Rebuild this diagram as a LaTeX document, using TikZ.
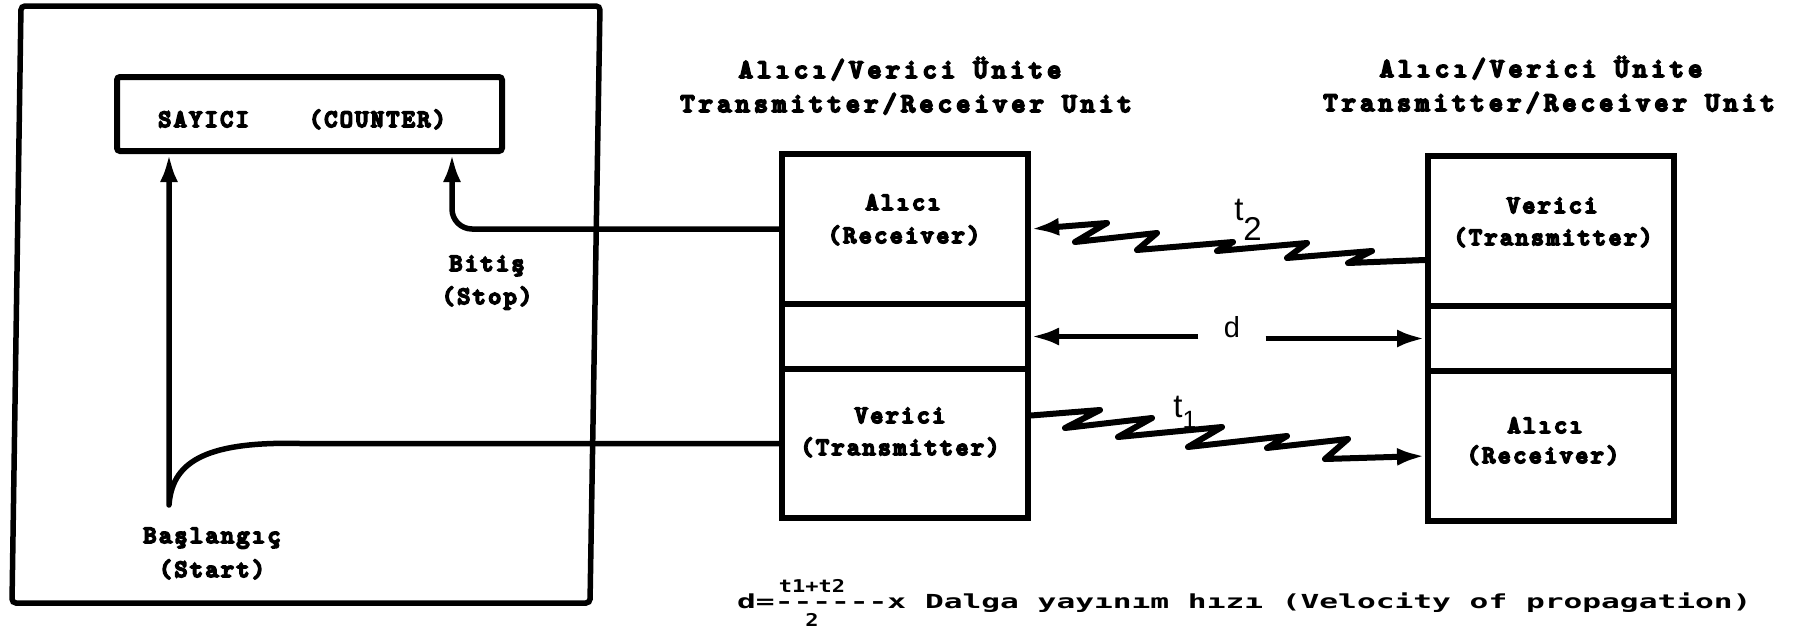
\documentclass[tikz,border=0pt]{standalone}
\usepackage{fontspec}
\usepackage{graphicx}
\usetikzlibrary{arrows.meta}
\newfontfamily\twfont[LetterSpace=9.5,FakeBold=7]{lmmonolt10-bold.otf}
\newfontfamily\ttlfont[LetterSpace=15.6,FakeBold=7]{lmmonolt10-bold.otf}
\newfontfamily\dmfont[Ligatures=TeXOff]{DejaVu Sans Mono}
\newfontfamily\hvfont{Liberation Sans}
\begin{document}
\begin{tikzpicture}[x=1pt,y=-1pt,
  box/.style={draw, line width=6pt, rounded corners=3pt, inner sep=0pt},
  sec/.style={draw, line width=6pt, minimum width=246pt, inner sep=0pt, anchor=north west},
  lbl/.style={font=\twfont\fontsize{25}{31}\selectfont, inner sep=0pt, anchor=base},
  ttl/.style={font=\ttlfont\fontsize{27}{36}\selectfont, inner sep=0pt, anchor=base},
  fml/.style={font=\dmfont\bfseries\fontsize{31.2}{34}\selectfont, inner sep=0pt, anchor=base},
  fmlsmall/.style={font=\dmfont\bfseries\fontsize{22}{24}\selectfont, inner sep=0pt, anchor=base},
  sym/.style={font=\hvfont\fontsize{33}{33}\selectfont, inner sep=0pt},
  conn/.style={line width=5.5pt, line join=round},
  arr/.style={-{Latex[length=28pt,width=18pt]}},
  zig/.style={line width=6pt, line join=round},
]
\useasboundingbox (0,0) rectangle (1806,629);

% outer frame
\draw[line width=5.5pt, rounded corners=4pt] (21,6) -- (600,6) -- (590,603) -- (12,603) -- cycle;

% counter
\node[box, minimum width=385pt, minimum height=74pt] (counter) at (309.5,114) {};
\node[lbl, anchor=base west] (countertxt) at (158,127) {SAYICI\hspace{60pt}(COUNTER)};

% left unit
\node[sec, minimum height=150pt] (lrx) at (779,151) {};
\node[sec, minimum height=65pt] (lmid) at (779,301) {};
\node[sec, minimum height=149pt] (ltx) at (779,366) {};
\node[lbl] (lrxa) at (903,210) {Alıcı};
\node[lbl] (lrxb) at (904,243) {(Receiver)};
\node[lbl] (ltxa) at (900,423) {Verici};
\node[lbl] (ltxb) at (900,455) {(Transmitter)};

% right unit
\node[sec, minimum height=150pt] (rtx) at (1425,153) {};
\node[sec, minimum height=65pt] (rmid) at (1425,303) {};
\node[sec, minimum height=150pt] (rrx) at (1425,368) {};
\node[lbl] (rtxa) at (1552,213) {Verici};
\node[lbl] (rtxb) at (1553,245) {(Transmitter)};
\node[lbl] (rrxa) at (1545,433) {Alıcı};
\node[lbl] (rrxb) at (1543,463) {(Receiver)};

% titles
\node[ttl] (tla) at (900,78) {Alıcı/Verici Ünite};
\node[ttl] (tlb) at (906,112) {Transmitter/Receiver Unit};
\node[ttl] (tra) at (1541,77) {Alıcı/Verici Ünite};
\node[ttl] (trb) at (1549,111) {Transmitter/Receiver Unit};

% start / stop labels
\node[lbl] (bitis) at (487,271) {Bitiş};
\node[lbl] (stoplbl) at (487,304) {(Stop)};
\node[lbl] (basl) at (212,543) {Başlangıç};
\node[lbl] (startlbl) at (212,577) {(Start)};

% stop connector
\coordinate (stopx) at (452,0);
\draw[conn, arr, rounded corners=20pt] (lrx.west) -| (stopx |- counter.south);

% start connector
\coordinate (sbend) at (300,0);
\coordinate (cusp) at (169,505);
\draw[conn, arr] (ltx.west) -- (sbend |- ltx.west)
  .. controls (200,441) and (172,465) .. (cusp) -- (cusp |- counter.south);

% d
\node[sym, font=\hvfont\fontsize{29}{29}\selectfont, minimum width=67pt] (dlab) at (1232,327) {d};
\draw[conn, arr] (dlab.west |- lmid.east) -- (lmid.east);
\draw[conn, arr] (dlab.east |- rmid.west) -- (rmid.west);

% t2 wave
\node[sym, anchor=base] (t2lab) at (1248,220) {t\raisebox{-20pt}{2}};
\draw[zig, arr] ([yshift=-29pt]rtx.west) -- (1348,263) -- (1372,251) -- (1287,258) -- (1307,243)
  -- (1217,251) -- (1233,242) -- (1137,250) -- (1157,233) -- (1075,242) -- (1107,223) -- (lrx.east);

% t1 wave
\node[sym, anchor=base] (t1lab) at (1185,417) {t\raisebox{-11pt}{\fontsize{25}{25}\selectfont 1}};
\draw[zig, arr] ([yshift=28pt]ltx.east) -- (1100,410) -- (1065,428) -- (1152,418) -- (1118,437)
  -- (1222,427) -- (1188,447) -- (1287,436) -- (1267,448) -- (1348,439) -- (1325,459) -- ([yshift=-10pt]rrx.west);

% formula
\node[fml, anchor=base west] (fmain) at (737,608) {\scalebox{1}[0.62]{d=------x Dalga yayınım hızı (Velocity of propagation)}};
\node[fmlsmall] (fnum) at (812,592) {\scalebox{1}[0.8]{t1+t2}};
\node[fmlsmall] (fden) at (812,626) {\scalebox{1}[0.8]{2}};
\end{tikzpicture}
\end{document}
